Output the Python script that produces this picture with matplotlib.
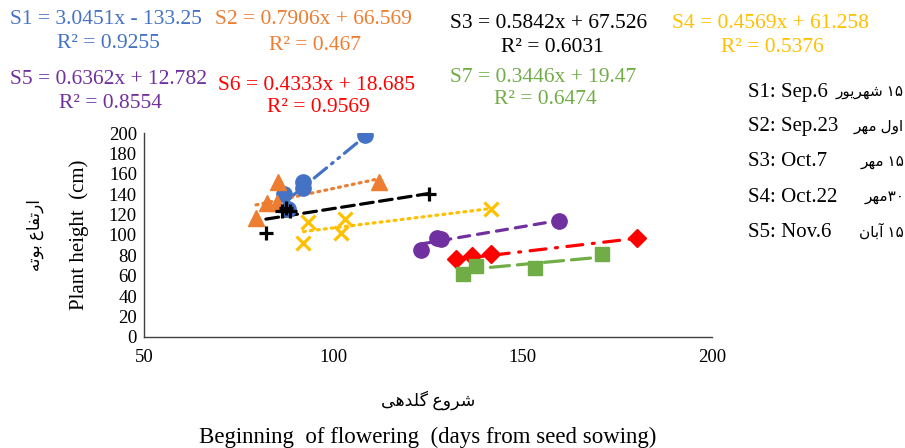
import numpy as np
import matplotlib
matplotlib.use('Agg')
from matplotlib import pyplot as plt

plt.rcParams['font.family'] = ['Liberation Serif', 'DejaVu Sans']

# data (days to flowering, plant height in cm)
s1_x = [87, 92, 92, 88, 108.4]
s1_y = [140, 152, 146, 125, 198]
s2_x = [79.6, 82.4, 85.5, 85, 112.1]
s2_y = [117, 131, 152, 131, 152]
s3_x = [82.2, 86.4, 88.5, 87.5, 125.3]
s3_y = [102, 124, 124, 126, 140]
s4_x = [93.4, 92.1, 103.1, 101.9, 141.5]
s4_y = [113, 92, 116, 102, 125]
s5_x = [123.1, 127.3, 128.3, 159.6]
s5_y = [85, 97, 96, 114]
s6_x = [132.5, 136.7, 141.5, 180.2]
s6_y = [76, 79, 81, 97]
s7_x = [134.3, 137.7, 153.2, 170.8]
s7_y = [62, 70, 68, 81]

# trendline coefficients printed on the chart
slopes = [3.0451, 0.7906, 0.5842, 0.4569, 0.6362, 0.4333, 0.3446]
intercepts = [-133.25, 66.569, 67.526, 61.258, 12.782, 18.685, 19.47]
r2 = ['0.9255', '0.467', '0.6031', '0.5376', '0.8554', '0.9569', '0.6474']

xs = [s1_x, s2_x, s3_x, s4_x, s5_x, s6_x, s7_x]
ys = [s1_y, s2_y, s3_y, s4_y, s5_y, s6_y, s7_y]
colors = ['#4472C4', '#ED7D31', 'black', '#FFC000', '#7030A0', '#FF0000', '#70AD47']
markers = ['o', '^', '+', 'x', 'o', 'D', 's']
msizes = [11, 11, 10, 10, 11, 9, 10]
styles = [(0, (5, 2, 0.6, 2, 0.6, 2)), (0, (0.6, 1.6)), (0, (4, 2)), (0, (0.6, 1.6)),
          (0, (3.5, 2.5)), (0, (5, 3, 0.6, 3)), (0, (6, 2.5))]

# persian labels, written in visual order with presentation forms
shahrivar = '\uFEAD\uFEEE\uFEF3\uFEAE\uFEEC\uFEB7'
mehr = '\uFEAE\uFEEC\uFEE3'
aval = '\uFEDD\uFEED\uFE8D'
aban = '\uFEE5\uFE8E\uFE91\uFE81'
fa_dates = [shahrivar + ' \u06F1\u06F5', mehr + ' ' + aval, mehr + ' \u06F1\u06F5',
            mehr + '\u06F3\u06F0', aban + ' \u06F1\u06F5']
en_dates = ['S1: Sep.6', 'S2: Sep.23', 'S3: Oct.7', 'S4: Oct.22', 'S5: Nov.6']
fa_ylabel = '\uFEEA\uFE97\uFEEE\uFE91' + ' ' + '\uFEC9\uFE8E\uFED4\uFE97\uFEAD\uFE8D'
fa_xlabel = '\uFEF0\uFEEB\uFEAA\uFEE0\uFB94' + ' ' + '\uFEC9\uFEED\uFEAE\uFEB7'

fig = plt.figure(figsize=(9.05, 4.48), dpi=100)
ax = fig.add_axes([0.159, 0.248, 0.628, 0.455])

for i in range(7):
    x = np.array(xs[i])
    xl = np.array([x.min(), x.max()])
    ax.plot(xl, slopes[i] * xl + intercepts[i], color=colors[i], linestyle=styles[i],
            linewidth=2.3, dash_capstyle='round', zorder=2)
    if markers[i] in ['+', 'x']:
        ax.plot(xs[i], ys[i], linestyle='none', marker=markers[i], ms=msizes[i],
                mew=2.3, color=colors[i], zorder=3)
    else:
        ax.plot(xs[i], ys[i], linestyle='none', marker=markers[i], ms=msizes[i],
                color=colors[i], mec=colors[i], zorder=3)

ax.set_xlim(50, 200)
ax.set_ylim(0, 200)
ax.set_xticks([50, 100, 150, 200])
ax.set_yticks(range(0, 201, 20))
ax.tick_params(length=0, labelsize=13.5, pad=5)
ax.tick_params(axis='x', pad=9)
for s in ['top', 'right']:
    ax.spines[s].set_visible(False)
for s in ['left', 'bottom']:
    ax.spines[s].set_color('#404040')
    ax.spines[s].set_linewidth(1)

ax.set_ylabel('Plant height  (cm)', fontsize=15, labelpad=14)
fig.text(35 / 905, 1 - 235 / 448, fa_ylabel, rotation=90, ha='center', va='center', fontsize=12)
fig.text(428 / 905, 1 - 400 / 448, fa_xlabel, ha='center', va='center', fontsize=12.5)
fig.text(428 / 905, 1 - 437 / 448, 'Beginning  of flowering  (days from seed sowing)',
         ha='center', va='center', fontsize=16.5)

# trendline equations
eq_pos = [(10, 20, 108, 43), (215, 20, 315, 45), (450, 23, 552, 47), (672, 23, 772, 47),
          (10, 80, 110, 103), (218, 85, 318, 108), (450, 77, 545, 100)]
for i in range(7):
    sign = '-' if intercepts[i] < 0 else '+'
    eq = 'S%d = %gx %s %g' % (i + 1, slopes[i], sign, abs(intercepts[i]))
    x0, y0, x1, y1 = eq_pos[i]
    fig.text(x0 / 905, 1 - y0 / 448, eq, ha='left', va='center', fontsize=15.5, color=colors[i])
    fig.text(x1 / 905, 1 - y1 / 448, 'R\u00b2 = ' + r2[i], ha='center', va='center',
             fontsize=15.5, color=colors[i])

# sowing dates
rows = [92, 127, 162, 197, 232]
for i in range(5):
    fig.text(748 / 905, 1 - rows[i] / 448, en_dates[i], ha='left', va='center', fontsize=15)
    fig.text(904 / 905, 1 - rows[i] / 448, fa_dates[i], ha='right', va='center', fontsize=11)

fig.savefig('out.png', dpi=100)
